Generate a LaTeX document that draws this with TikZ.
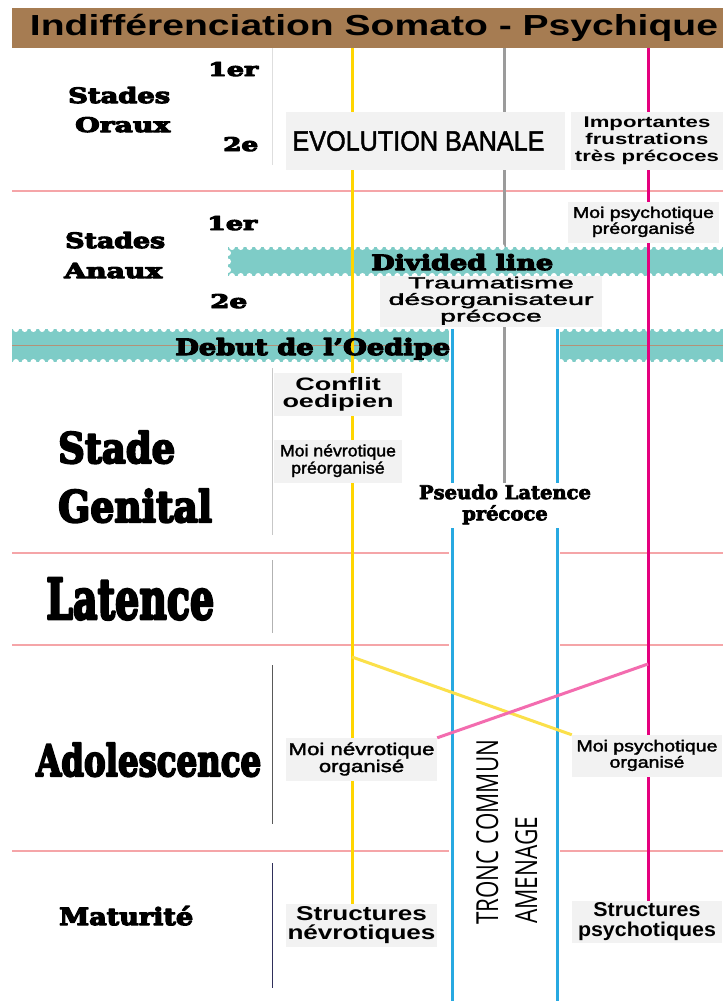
\documentclass[tikz,border=0pt]{standalone}
\usepackage{fontspec}
\usepackage{graphicx}
\setmainfont{Liberation Sans}
\newfontfamily\slab{DejaVu Serif Bold}
\newfontfamily\tronfont{Open Sans}
\definecolor{titlebrown}{HTML}{A67C52}
\definecolor{teal}{HTML}{7ECCC7}
\definecolor{pinkrule}{HTML}{F5A5A8}
\definecolor{yel}{HTML}{FFD500}
\definecolor{yeldiag}{HTML}{FBE04A}
\definecolor{gry}{HTML}{9B9B9B}
\definecolor{mag}{HTML}{E5007E}
\definecolor{magdiag}{HTML}{F36CAF}
\definecolor{blu}{HTML}{27A9E1}
\definecolor{boxgrey}{HTML}{F2F2F2}
\definecolor{bandbrown}{HTML}{B39278}
\newcommand\fitw[2]{\resizebox{#1pt}{\height}{#2}}
\newcommand\fitwh[3]{\resizebox{#1pt}{#2pt}{#3}}
\newcommand\setfs[2]{\fontsize{#1pt}{#2pt}\selectfont}
\newcommand\bt[2]{\fitw{#1}{\begin{tabular}{@{}c@{}}#2\end{tabular}}}
\newcommand\heavy[2]{\special{pdf:literal direct 1 j 2 Tr #1 w}#2\special{pdf:literal direct 0 Tr 0.4 w}}
\pgfdeclarelayer{bg}
\pgfsetlayers{bg,main}
\tikzset{
  box/.style={fill=boxgrey, inner sep=0pt, align=center},
  lbl/.style={anchor=base west, inner sep=0pt},
  vline/.style={line width=3pt},
  rule/.style={draw=pinkrule, line width=1.5pt},
  scallop/.style={fill=white},
}
\begin{document}
\begin{tikzpicture}[x=1pt,y=-1pt]
\useasboundingbox (0,0) rectangle (723,1001);
% title
\node[fill=titlebrown, inner sep=0pt, minimum width=711pt, minimum height=40pt] (title) at (367.5,28)
  {\hspace*{13pt}\fitw{688}{\setfs{29}{32}\bfseries Indiff\'erenciation Somato - Psychique}};
% left column labels
\node[lbl] (o1) at (208,76) {\fitwh{50}{14}{\slab\heavy{0.5}{1er}}};
\node[lbl] (os) at (68,103) {\fitwh{102}{16}{\slab\heavy{0.5}{Stades}}};
\node[lbl] (oo) at (75,132) {\fitwh{95}{15}{\slab\heavy{0.5}{Oraux}}};
\node[lbl] (o2) at (223,151) {\fitwh{35}{14}{\slab\heavy{0.5}{2e}}};
\node[lbl] (a1) at (207,230) {\fitwh{50}{14}{\slab\heavy{0.5}{1er}}};
\node[lbl] (as) at (65,248) {\fitwh{100}{16}{\slab\heavy{0.5}{Stades}}};
\node[lbl] (aa) at (64,278) {\fitwh{98}{15}{\slab\heavy{0.5}{Anaux}}};
\node[lbl] (a2) at (210,308) {\fitwh{37}{14}{\slab\heavy{0.5}{2e}}};
\node[lbl] (gs) at (58,463) {\fitwh{117}{32}{\slab\heavy{0.5}{Stade}}};
\node[lbl] (gg) at (58,522) {\fitwh{154}{33}{\slab\heavy{0.5}{Genital}}};
\node[lbl] (lat) at (46,619) {\fitwh{168}{41}{\slab\heavy{0.5}{Latence}}};
\node[lbl] (ado) at (36,776) {\fitwh{225}{33}{\slab\heavy{0.5}{Adolescence}}};
\node[lbl] (mat) at (59,925) {\fitwh{134}{19}{\slab\heavy{0.5}{Maturit\'e}}};
% boxes
\node[box, minimum width=279pt, minimum height=58pt] (evo) at (425.5,141)
  {\fitw{252}{\setfs{28}{30}\heavy{0.5}{EVOLUTION BANALE}}\hspace*{14pt}};
\node[box, minimum width=152pt, minimum height=58pt] (imp) at (647,141)
  {\setfs{15.5}{17}\bfseries\bt{144}{Importantes\\frustrations\\tr\`es pr\'ecoces}};
\node[box, minimum width=151pt, minimum height=41pt] (mpp) at (643.5,222.5)
  {\setfs{15.5}{15}\bt{141}{\heavy{0.3}{Moi psychotique}\\\heavy{0.3}{pr\'eorganis\'e}}};
\node[box, minimum width=222pt, minimum height=51pt] (trau) at (491,301.5)
  {\setfs{16}{16}\bt{205}{\heavy{0.3}{Traumatisme}\\\heavy{0.3}{d\'esorganisateur}\\\heavy{0.3}{pr\'ecoce}}};
\node[box, minimum width=128pt, minimum height=43pt] (conf) at (338,394.5)
  {\setfs{18}{14}\bfseries\bt{111}{Conflit\\oedipien}};
\node[box, minimum width=128pt, minimum height=43pt] (mnp) at (338,461.5)
  {\setfs{16.5}{17}\bt{116}{\heavy{0.3}{Moi n\'evrotique}\\\heavy{0.3}{pr\'eorganis\'e}}};
\node[box, fill=white, minimum width=184pt, minimum height=45pt] (pseudo) at (505,505.5)
  {\setfs{19}{20}\slab\bt{172}{\heavy{0.7}{Pseudo Latence}\\\heavy{0.7}{pr\'ecoce}}};
\node[box, minimum width=151pt, minimum height=43pt] (mno) at (361.5,759.5)
  {\setfs{17}{15}\bt{146}{\heavy{0.3}{Moi n\'evrotique}\\\heavy{0.3}{organis\'e}}};
\node[box, minimum width=150pt, minimum height=42pt] (mpo) at (647,756)
  {\setfs{16}{15}\bt{141}{\heavy{0.3}{Moi psychotique}\\\heavy{0.3}{organis\'e}}};
\node[box, minimum width=151pt, minimum height=43pt] (sn) at (361.5,925.5)
  {\setfs{20}{16}\bfseries\bt{148}{Structures\\n\'evrotiques}};
\node[box, minimum width=150pt, minimum height=42pt] (sp) at (647,922)
  {\setfs{20}{16}\bfseries\bt{138}{Structures\\psychotiques}};
% band labels
\node[lbl] (divl) at (371,270) {\fitwh{182}{16}{\slab\heavy{0.5}{Divided line}}};
\node[lbl] (oed) at (175,355) {\fitwh{275}{17}{\slab\heavy{0.5}{Debut de l’Oedipe}}};
% tronc commun
\node[lbl, rotate=90] (tr1) at (498,925) {\fitwh{185}{22}{\tronfont TRONC COMMUN}};
\node[lbl, rotate=90] (tr2) at (537,924) {\fitwh{107}{22}{\tronfont AMENAGE}};
% coordinates
\coordinate (ytop) at (352,48);
\coordinate (gtop) at (504,48);
\coordinate (mtop) at (648,48);
\coordinate (b1top) at (452,329);
\coordinate (b1bot) at (452,1001);
\coordinate (b2top) at (557,329);
\coordinate (b2bot) at (557,1001);
\coordinate (yd1) at (352,657);
\coordinate (md1) at (648,664);
\begin{pgfonlayer}{bg}
\fill[white] (0,0) rectangle (723,1001);
% pink rules
\draw[rule] (12,191) -- (723,191);
\foreach \yy in {553,645,851} {
  \draw[rule] (12,\yy) -- (452,\yy);
  \draw[rule] (557,\yy) -- (723,\yy);
}
% separators
\draw[draw=black!13, line width=0.8pt] (272,48) -- (272,165);
\draw[draw=black!22, line width=0.8pt] (272,368) -- (272,535);
\draw[draw=black!30, line width=0.8pt] (272,560) -- (272,633);
\draw[draw=black!65, line width=0.8pt] (272,665) -- (272,824);
\draw[draw={rgb,255:red,47;green,47;blue,90}, line width=0.8pt] (272,863) -- (272,988);
% grey line
\draw[gry, vline] (gtop) -- (gtop |- pseudo.north);
% divided band
\fill[teal] (228,247) rectangle (723,276);
\foreach \xx in {232,240.7,...,723} {
  \fill[scallop] (\xx,247) circle (3pt);
  \fill[scallop] (\xx,276) circle (3pt);
}
\foreach \yy in {253,261.5,270} {\fill[scallop] (228,\yy) circle (3pt);}
% debut band
\fill[teal] (12,329) rectangle (452,362);
\fill[teal] (557,329) rectangle (723,362);
\foreach \xx in {16,24.7,...,452} {
  \fill[scallop] (\xx,329) circle (3pt);
  \fill[scallop] (\xx,362) circle (3pt);
}
\foreach \xx in {561,569.7,...,723} {
  \fill[scallop] (\xx,329) circle (3pt);
  \fill[scallop] (\xx,362) circle (3pt);
}
\draw[bandbrown, line width=1.5pt] (12,345.5) -- (452,345.5);
\draw[bandbrown, line width=1.5pt] (557,345.5) -- (723,345.5);
% main verticals
\draw[yel, vline] (ytop) -- (ytop |- sn.north);
\draw[mag, vline] (mtop) -- (mtop |- sp.north);
\draw[white, line width=5.5pt] (b1top) -- (b1bot);
\draw[white, line width=5.5pt] (b2top) -- (b2bot);
\draw[blu, vline] (b1top) -- (b1bot);
\draw[blu, vline] (b2top) -- (b2bot);
% diagonals
\draw[yeldiag, line width=3pt] (yd1) -- (mpo.north west);
\draw[magdiag, line width=3pt] (md1) -- (mno.north east);
\end{pgfonlayer}
\end{tikzpicture}
\end{document}
